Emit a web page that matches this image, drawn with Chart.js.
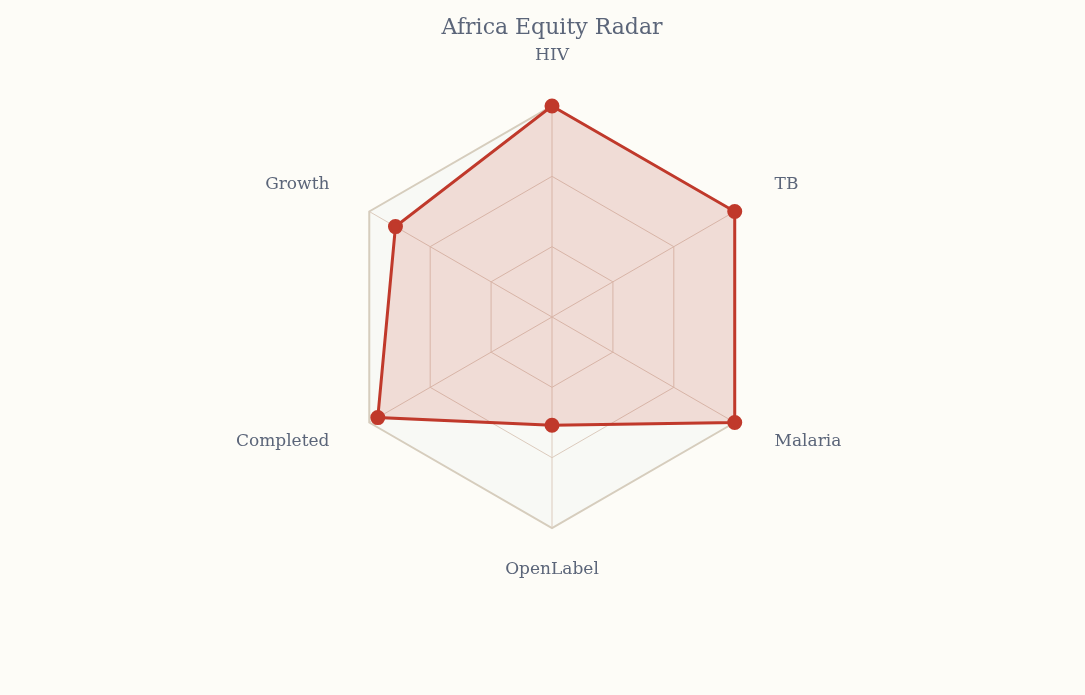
<!DOCTYPE html>
<html>
<head>
<meta charset="utf-8">
<script src="https://cdn.jsdelivr.net/npm/chart.js@4.4.1/dist/chart.umd.min.js"></script>
<style>
html,body{margin:0;padding:0;background:#fdfcf7;}
#wrap{width:1085px;height:695px;}
</style>
</head>
<body>
<div id="wrap"><canvas id="c" width="1085" height="695"></canvas></div>
<script>
const categories = ["HIV", "TB", "Malaria", "OpenLabel", "Completed", "Growth"];
const seriesValues = [3.0, 3.0, 3.0, 1.54, 2.86, 2.57];
const seriesName = "Equity";
const tickValues = [0, 1, 2, 3];

const FONT = "'DejaVu Serif', Georgia, serif";
const TEXT = "#5b6579";
const LABEL_GAP = 46;
const LABEL_SHIFT = -4;

// Draws the axis names outside the outer ring, positioned from the radial scale.
const axisNamePlugin = {
  id: 'axisNames',
  afterDraw(chart) {
    const scale = chart.scales.r;
    const ctx = chart.ctx;
    ctx.save();
    ctx.font = "17px " + FONT;
    ctx.fillStyle = TEXT;
    ctx.textBaseline = 'middle';
    const n = chart.data.labels.length;
    for (let i = 0; i < n; i++) {
      const p = scale.getPointPosition(i, scale.drawingArea + LABEL_GAP);
      const c = Math.cos(p.angle);
      ctx.textAlign = Math.abs(c) < 0.01 ? 'center' : (c > 0 ? 'left' : 'right');
      ctx.fillText(chart.data.labels[i], p.x, p.y + LABEL_SHIFT);
    }
    ctx.restore();
  }
};

new Chart(document.getElementById('c'), {
  type: 'radar',
  data: {
    labels: categories,
    datasets: [{
      label: seriesName,
      data: seriesValues,
      borderColor: '#c0392b',
      backgroundColor: 'rgba(192,57,43,0.15)',
      borderWidth: 3,
      pointBackgroundColor: '#c0392b',
      pointBorderColor: '#c0392b',
      pointRadius: 6,
      fill: true
    }]
  },
  plugins: [axisNamePlugin],
  options: {
    responsive: false,
    animation: false,
    layout: { padding: { left: 19, right: 0, top: 0, bottom: 166 } },
    plugins: {
      legend: { display: false },
      title: {
        display: true,
        text: 'Africa Equity Radar',
        color: TEXT,
        font: { family: FONT, size: 22, weight: 'normal' },
        padding: { top: 15, bottom: 64 }
      },
      tooltip: { enabled: false }
    },
    scales: {
      r: {
        min: tickValues[0],
        max: tickValues[tickValues.length - 1],
        ticks: { stepSize: 1, display: false },
        backgroundColor: '#f8f9f5',
        angleLines: { color: '#dccbbd', lineWidth: 1 },
        grid: {
          color: (ctx) => ctx.index === tickValues.length - 1 ? '#d6cdbd' : '#dccbbd',
          lineWidth: (ctx) => ctx.index === tickValues.length - 1 ? 2 : 1
        },
        pointLabels: { display: false }
      }
    }
  }
});
</script>
</body>
</html>
